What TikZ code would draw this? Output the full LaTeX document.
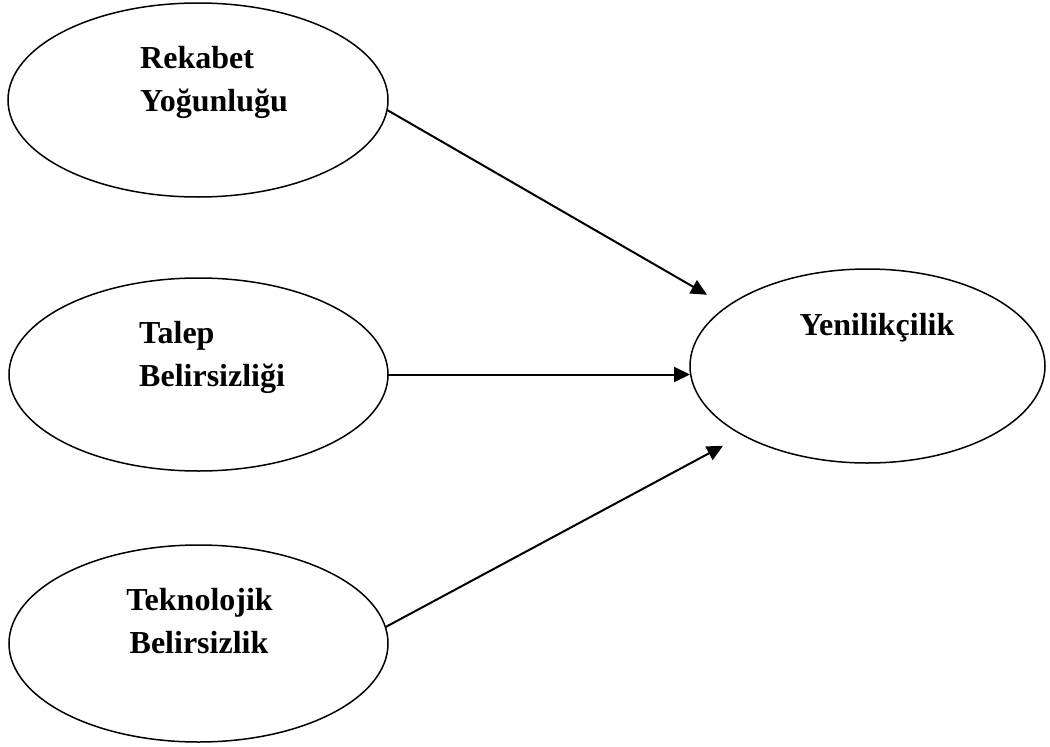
\documentclass[tikz,border=0pt]{standalone}
\usepackage{fontspec}
\setmainfont{Liberation Serif}
\usetikzlibrary{shapes.geometric,arrows.meta}
\begin{document}
\begin{tikzpicture}[x=1pt,y=-1pt,
  oval/.style={ellipse,draw,line width=1.5pt,inner sep=0pt,outer sep=0pt},
  lbl/.style={font=\fontsize{32}{38}\selectfont\bfseries,inner sep=0pt},
  arr/.style={line width=2pt,-{Triangle[length=16pt,width=15pt]}}]
\useasboundingbox (0,0) rectangle (1050,747);

% constructs
\node[oval,minimum width=380pt,minimum height=194pt] (rek) at (198,100) {};
\node[oval,minimum width=379pt,minimum height=193pt] (tal) at (198.5,374.5) {};
\node[oval,minimum width=379pt,minimum height=197pt] (tek) at (198.5,643.5) {};
\node[oval,minimum width=355pt,minimum height=194pt] (yen) at (867.5,366) {};

% labels
\node[lbl,anchor=base west] (rekA) at (140,68) {Rekabet};
\node[lbl,anchor=base west] (rekB) at (140,111) {Yoğunluğu};
\node[lbl,anchor=base west] (talA) at (139,343) {Talep};
\node[lbl,anchor=base west] (talB) at (139,386) {Belirsizliği};
\node[lbl,anchor=base] (tekA) at (199.5,610.5) {Teknolojik};
\node[lbl,anchor=base] (tekB) at (199,653) {Belirsizlik};
\node[lbl,anchor=base] (yenA) at (877,335) {Yenilikçilik};

% relations
\draw[arr,shorten >=23.5pt] (rek.-3.6) -- (yen.157.2);
\draw[arr] (tal.east) -- (tal.east -| yen.west);
\draw[arr,shorten >=22.5pt] (tek.5.3) -- (yen.209.9);
\end{tikzpicture}
\end{document}
